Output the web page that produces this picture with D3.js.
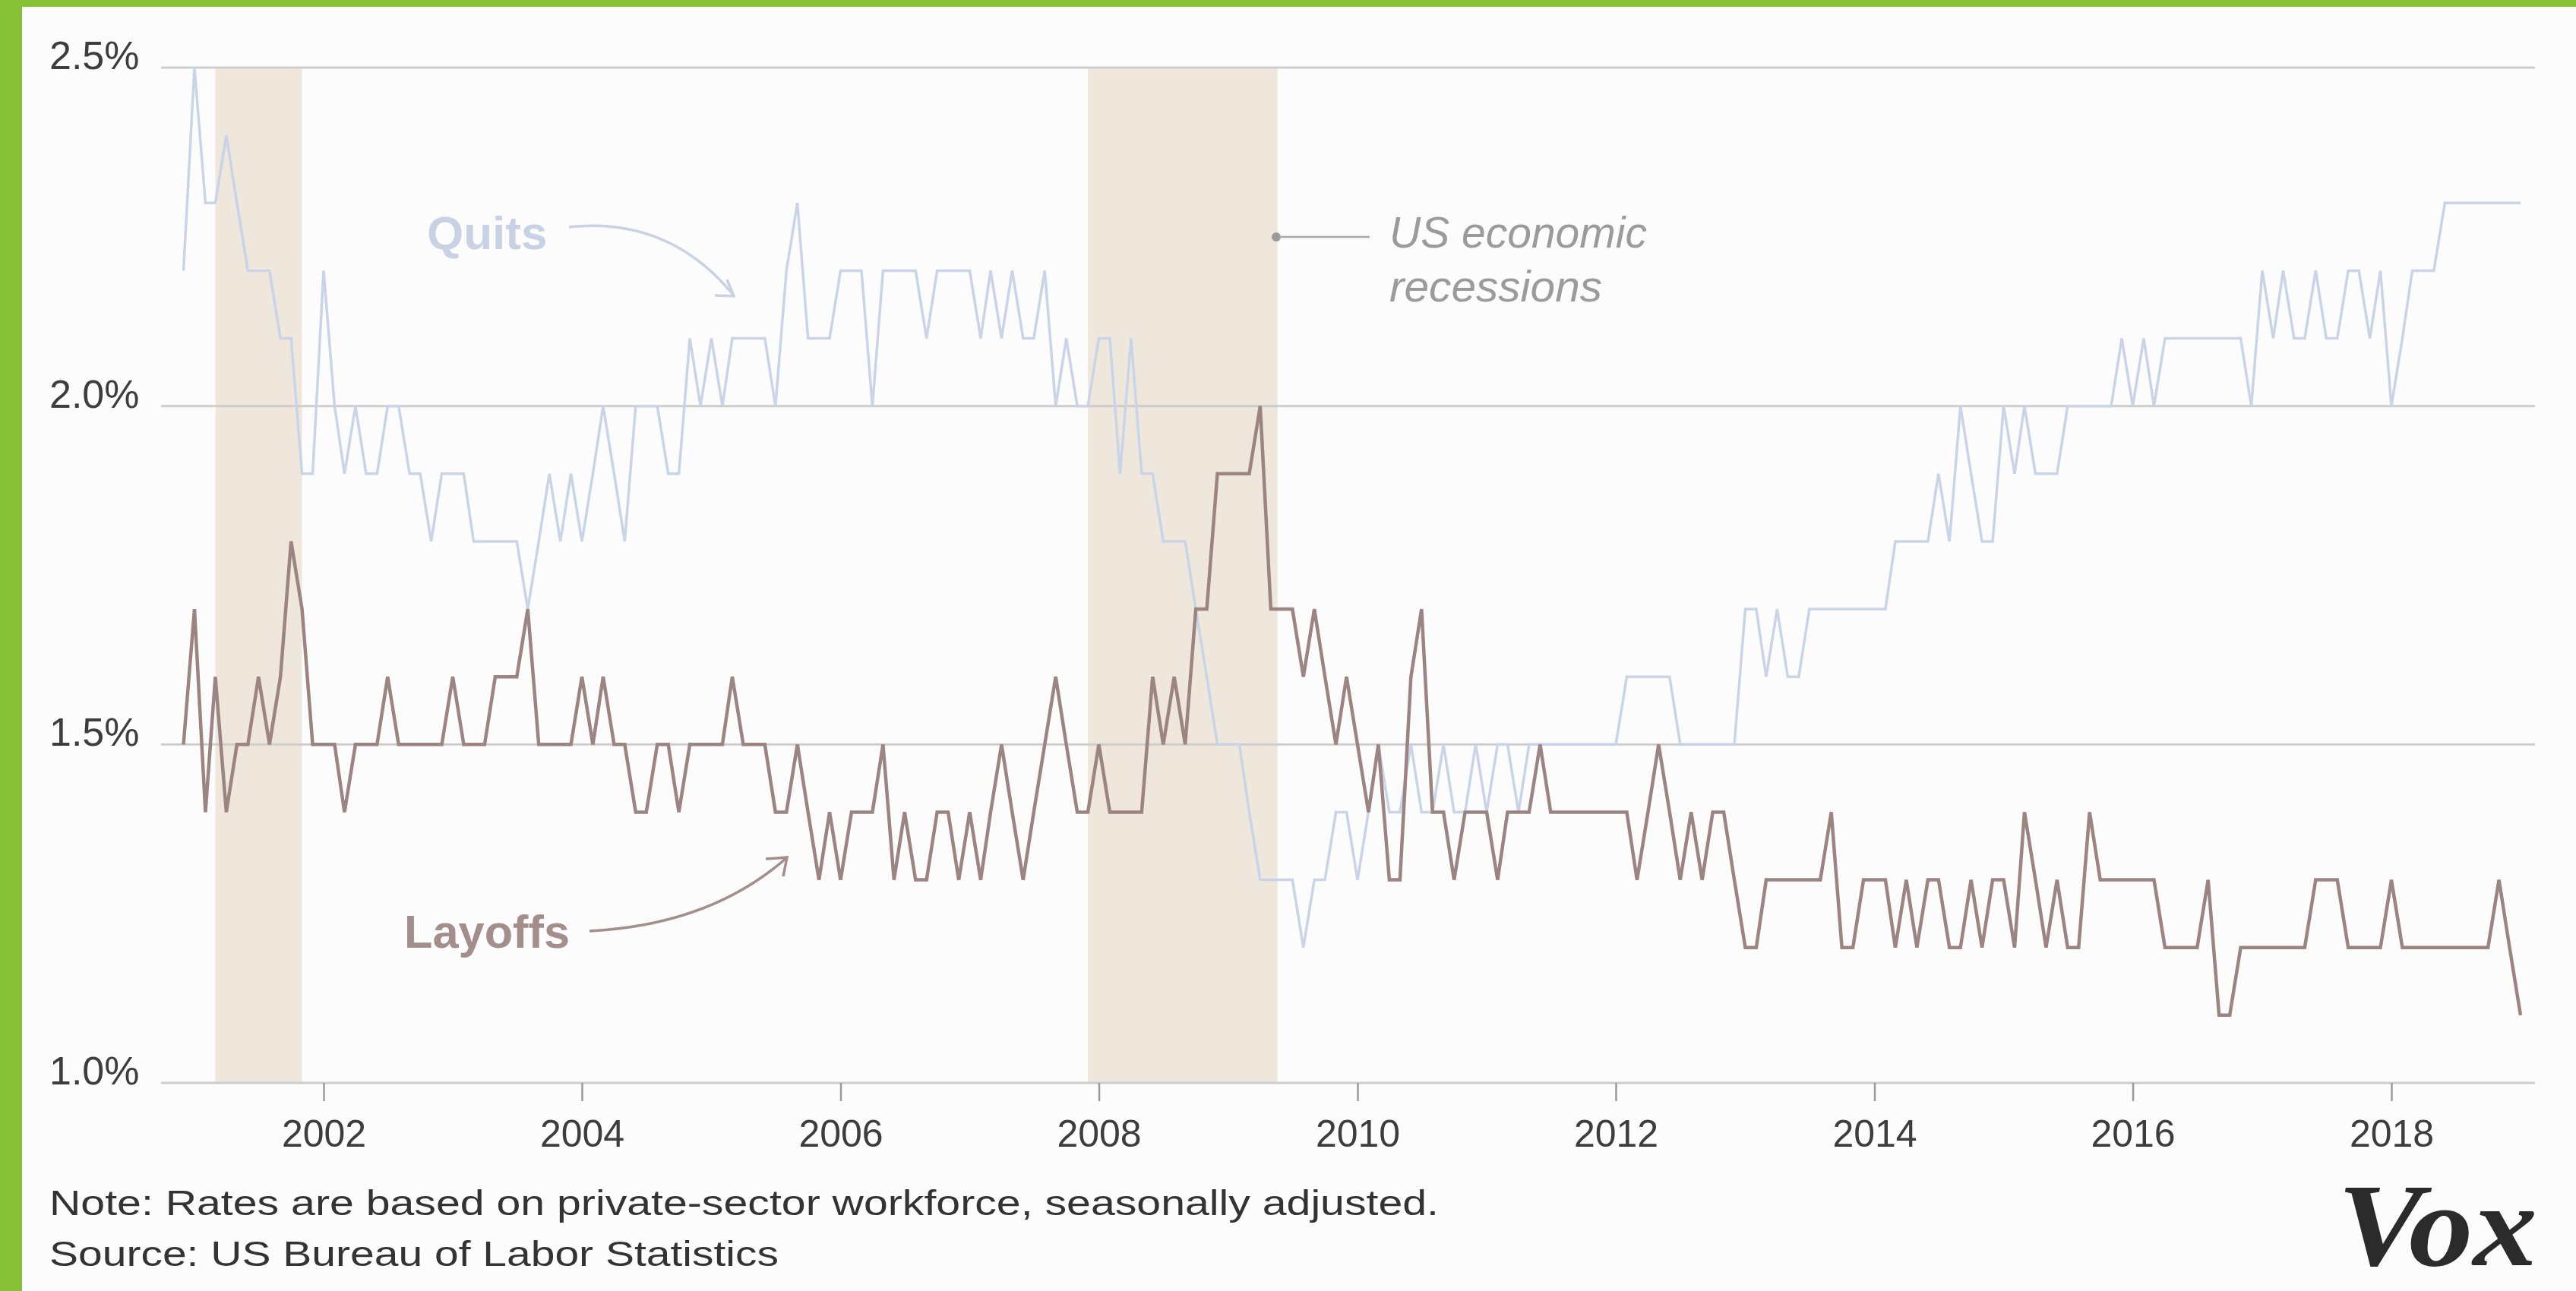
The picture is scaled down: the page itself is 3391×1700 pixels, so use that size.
<!DOCTYPE html>
<html>
<head>
<meta charset="utf-8">
<script src="https://cdn.jsdelivr.net/npm/d3@7"></script>
<style>
  html, body { margin: 0; padding: 0; background: #fdfcfd; }
  svg { display: block; }
</style>
</head>
<body>
<svg id="chart" width="3391" height="1700"></svg>
<script>
// ---------------- DATA ----------------
const firstMonth = "2000-12-01";   // first monthly observation
const lastMonth  = "2019-01-01";   // last monthly observation

// Quits rate, private sector (%), monthly Dec 2000 .. Jan 2019
const quits = [
  2.2,
  2.5, 2.3, 2.3, 2.4, 2.3, 2.2, 2.2, 2.2, 2.1, 2.1, 1.9, 1.9,
  2.2, 2.0, 1.9, 2.0, 1.9, 1.9, 2.0, 2.0, 1.9, 1.9, 1.8, 1.9,
  1.9, 1.9, 1.8, 1.8, 1.8, 1.8, 1.8, 1.7, 1.8, 1.9, 1.8, 1.9,
  1.8, 1.9, 2.0, 1.9, 1.8, 2.0, 2.0, 2.0, 1.9, 1.9, 2.1, 2.0,
  2.1, 2.0, 2.1, 2.1, 2.1, 2.1, 2.0, 2.2, 2.3, 2.1, 2.1, 2.1,
  2.2, 2.2, 2.2, 2.0, 2.2, 2.2, 2.2, 2.2, 2.1, 2.2, 2.2, 2.2,
  2.2, 2.1, 2.2, 2.1, 2.2, 2.1, 2.1, 2.2, 2.0, 2.1, 2.0, 2.0,
  2.1, 2.1, 1.9, 2.1, 1.9, 1.9, 1.8, 1.8, 1.8, 1.7, 1.6, 1.5,
  1.5, 1.5, 1.4, 1.3, 1.3, 1.3, 1.3, 1.2, 1.3, 1.3, 1.4, 1.4,
  1.3, 1.4, 1.5, 1.4, 1.4, 1.5, 1.4, 1.4, 1.5, 1.4, 1.4, 1.5,
  1.4, 1.5, 1.5, 1.4, 1.5, 1.5, 1.5, 1.5, 1.5, 1.5, 1.5, 1.5,
  1.5, 1.6, 1.6, 1.6, 1.6, 1.6, 1.5, 1.5, 1.5, 1.5, 1.5, 1.5,
  1.7, 1.7, 1.6, 1.7, 1.6, 1.6, 1.7, 1.7, 1.7, 1.7, 1.7, 1.7,
  1.7, 1.7, 1.8, 1.8, 1.8, 1.8, 1.9, 1.8, 2.0, 1.9, 1.8, 1.8,
  2.0, 1.9, 2.0, 1.9, 1.9, 1.9, 2.0, 2.0, 2.0, 2.0, 2.0, 2.1,
  2.0, 2.1, 2.0, 2.1, 2.1, 2.1, 2.1, 2.1, 2.1, 2.1, 2.1, 2.0,
  2.2, 2.1, 2.2, 2.1, 2.1, 2.2, 2.1, 2.1, 2.2, 2.2, 2.1, 2.2,
  2.0, 2.1, 2.2, 2.2, 2.2, 2.3, 2.3, 2.3, 2.3, 2.3, 2.3, 2.3,
  2.3
];

// Layoffs rate, private sector (%), monthly Dec 2000 .. Jan 2019
const layoffs = [
  1.5,
  1.7, 1.4, 1.6, 1.4, 1.5, 1.5, 1.6, 1.5, 1.6, 1.8, 1.7, 1.5,
  1.5, 1.5, 1.4, 1.5, 1.5, 1.5, 1.6, 1.5, 1.5, 1.5, 1.5, 1.5,
  1.6, 1.5, 1.5, 1.5, 1.6, 1.6, 1.6, 1.7, 1.5, 1.5, 1.5, 1.5,
  1.6, 1.5, 1.6, 1.5, 1.5, 1.4, 1.4, 1.5, 1.5, 1.4, 1.5, 1.5,
  1.5, 1.5, 1.6, 1.5, 1.5, 1.5, 1.4, 1.4, 1.5, 1.4, 1.3, 1.4,
  1.3, 1.4, 1.4, 1.4, 1.5, 1.3, 1.4, 1.3, 1.3, 1.4, 1.4, 1.3,
  1.4, 1.3, 1.4, 1.5, 1.4, 1.3, 1.4, 1.5, 1.6, 1.5, 1.4, 1.4,
  1.5, 1.4, 1.4, 1.4, 1.4, 1.6, 1.5, 1.6, 1.5, 1.7, 1.7, 1.9,
  1.9, 1.9, 1.9, 2.0, 1.7, 1.7, 1.7, 1.6, 1.7, 1.6, 1.5, 1.6,
  1.5, 1.4, 1.5, 1.3, 1.3, 1.6, 1.7, 1.4, 1.4, 1.3, 1.4, 1.4,
  1.4, 1.3, 1.4, 1.4, 1.4, 1.5, 1.4, 1.4, 1.4, 1.4, 1.4, 1.4,
  1.4, 1.4, 1.3, 1.4, 1.5, 1.4, 1.3, 1.4, 1.3, 1.4, 1.4, 1.3,
  1.2, 1.2, 1.3, 1.3, 1.3, 1.3, 1.3, 1.3, 1.4, 1.2, 1.2, 1.3,
  1.3, 1.3, 1.2, 1.3, 1.2, 1.3, 1.3, 1.2, 1.2, 1.3, 1.2, 1.3,
  1.3, 1.2, 1.4, 1.3, 1.2, 1.3, 1.2, 1.2, 1.4, 1.3, 1.3, 1.3,
  1.3, 1.3, 1.3, 1.2, 1.2, 1.2, 1.2, 1.3, 1.1, 1.1, 1.2, 1.2,
  1.2, 1.2, 1.2, 1.2, 1.2, 1.3, 1.3, 1.3, 1.2, 1.2, 1.2, 1.2,
  1.3, 1.2, 1.2, 1.2, 1.2, 1.2, 1.2, 1.2, 1.2, 1.2, 1.3, 1.2,
  1.1
];

const yTickValues = [1.0, 1.5, 2.0, 2.5];
const yTickLabels = ["1.0%", "1.5%", "2.0%", "2.5%"];
const xTickYears  = [2002, 2004, 2006, 2008, 2010, 2012, 2014, 2016, 2018];

// US economic recessions (shaded spans)
const recessionStarts = ["2001-03-01", "2007-12-01"];
const recessionEnds   = ["2001-11-01", "2009-05-20"];

const seriesNames  = ["Quits", "Layoffs"];
const noteText   = "Note: Rates are based on private-sector workforce, seasonally adjusted.";
const sourceText = "Source: US Bureau of Labor Statistics";
const recessionLabel = ["US economic", "recessions"];
const logoText = "Vox";

// ---------------- CHART ----------------
const W = 3391, H = 1700;
const svg = d3.select("#chart");
const parse = d3.utcParse("%Y-%m-%d");
const months = d3.utcMonth.range(parse(firstMonth), d3.utcMonth.offset(parse(lastMonth), 1));

const x = d3.scaleUtc()
  .domain([Date.UTC(2002, 0, 1), Date.UTC(2018, 0, 1)])
  .range([426, 3148]);
const y = d3.scaleLinear().domain([1.0, 2.5]).range([1426, 89]);

const gridX0 = 212, gridX1 = 3337;
const FONT = "'Liberation Sans', Arial, sans-serif";

function fit(sel, w) {
  const L = sel.node().getComputedTextLength();
  if (Math.abs(L - w) / w > 0.01) sel.attr("textLength", w).attr("lengthAdjust", "spacingAndGlyphs");
}

// background + green frame
svg.append("rect").attr("width", W).attr("height", H).attr("fill", "#fdfcfd");
svg.append("rect").attr("x", 0).attr("y", 0).attr("width", W).attr("height", 9).attr("fill", "#86c135");
svg.append("rect").attr("x", 0).attr("y", 0).attr("width", 29).attr("height", H).attr("fill", "#86c135");

// recession shading
svg.append("g").selectAll("rect")
  .data(recessionStarts.map((s, i) => [parse(s), parse(recessionEnds[i])]))
  .join("rect")
  .attr("x", d => x(d[0]))
  .attr("width", d => x(d[1]) - x(d[0]))
  .attr("y", y(2.5))
  .attr("height", y(1.0) - y(2.5))
  .attr("fill", "#efe7db");

// gridlines
svg.append("g").selectAll("line")
  .data(yTickValues)
  .join("line")
  .attr("x1", gridX0).attr("x2", gridX1)
  .attr("y1", d => y(d)).attr("y2", d => y(d))
  .attr("stroke", "#cdcdcd").attr("stroke-width", 3);

// y labels
svg.append("g").selectAll("text")
  .data(yTickValues)
  .join("text")
  .attr("x", 65)
  .attr("y", d => y(d) + 2)
  .attr("font-family", FONT).attr("font-size", 52)
  .attr("fill", "#3d3d3d")
  .text((d, i) => yTickLabels[i]);

// x axis
const xAxis = d3.axisBottom(x)
  .tickValues(xTickYears.map(yr => Date.UTC(yr, 0, 1)))
  .tickFormat(d => d3.utcFormat("%Y")(d))
  .tickSize(24)
  .tickPadding(24);
const gx = svg.append("g").attr("transform", `translate(0,${y(1.0)})`).call(xAxis);
gx.select(".domain").remove();
gx.selectAll(".tick line").attr("stroke", "#9a9a9a").attr("stroke-width", 2.5);
gx.selectAll(".tick text").attr("font-family", FONT).attr("font-size", 50).attr("fill", "#3d3d3d");

// lines
const line = d3.line().x((d, i) => x(months[i])).y(d => y(d)).curve(d3.curveLinear);
svg.append("path").datum(quits)
  .attr("d", line).attr("fill", "none")
  .attr("stroke", "#c9d4e8").attr("stroke-width", 3.5).attr("stroke-linejoin", "miter");
svg.append("path").datum(layoffs)
  .attr("d", line).attr("fill", "none")
  .attr("stroke", "#9b8482").attr("stroke-width", 4.5).attr("stroke-linejoin", "miter");

// series labels + arrows
const qLab = svg.append("text").attr("x", 562).attr("y", 328)
  .attr("font-family", FONT).attr("font-weight", "bold").attr("font-size", 62)
  .attr("fill", "#c8d2e4").text(seriesNames[0]);
fit(qLab, 158);
svg.append("path").attr("d", "M749,299 Q880,285 965,388")
  .attr("fill", "none").attr("stroke", "#c8d2e4").attr("stroke-width", 3.5);
svg.append("path").attr("d", "M957,368 L966,390 L941,389")
  .attr("fill", "none").attr("stroke", "#c8d2e4").attr("stroke-width", 3.5).attr("stroke-linejoin", "miter");

const lLab = svg.append("text").attr("x", 532).attr("y", 1248)
  .attr("font-family", FONT).attr("font-weight", "bold").attr("font-size", 62)
  .attr("fill", "#a38e8c").text(seriesNames[1]);
fit(lLab, 218);
svg.append("path").attr("d", "M776,1226 Q935,1218 1035,1130")
  .attr("fill", "none").attr("stroke", "#a38e8c").attr("stroke-width", 3.5);
svg.append("path").attr("d", "M1008,1131 L1036,1129 L1031,1154")
  .attr("fill", "none").attr("stroke", "#a38e8c").attr("stroke-width", 3.5).attr("stroke-linejoin", "miter");

// recession annotation
svg.append("circle").attr("cx", 1680).attr("cy", 312).attr("r", 6).attr("fill", "#9a9a9a");
svg.append("line").attr("x1", 1684).attr("x2", 1803).attr("y1", 312).attr("y2", 312)
  .attr("stroke", "#a8a8a8").attr("stroke-width", 2.5);
const rl = svg.append("g").attr("font-family", FONT).attr("font-style", "italic")
  .attr("font-size", 57).attr("fill", "#9b9b9b");
const r1 = rl.append("text").attr("x", 1829).attr("y", 326).text(recessionLabel[0]);
fit(r1, 341);
const r2 = rl.append("text").attr("x", 1829).attr("y", 397).text(recessionLabel[1]);
fit(r2, 280);

// footnotes
const n1 = svg.append("text").attr("x", 65).attr("y", 1600)
  .attr("font-family", FONT).attr("font-size", 47).attr("fill", "#333").text(noteText);
fit(n1, 1829);
const n2 = svg.append("text").attr("x", 65).attr("y", 1667)
  .attr("font-family", FONT).attr("font-size", 47).attr("fill", "#333").text(sourceText);
fit(n2, 960);

// Vox logo (kept inside the canvas and clear of the axis labels)
const vox = svg.append("text").attr("x", 3077).attr("y", 1666)
  .attr("font-family", "'Liberation Serif', 'DejaVu Serif', serif")
  .attr("font-weight", "bold").attr("font-style", "italic")
  .attr("font-size", 155).attr("fill", "#2b2b2b").text(logoText);
fit(vox, 263);
</script>
</body>
</html>
